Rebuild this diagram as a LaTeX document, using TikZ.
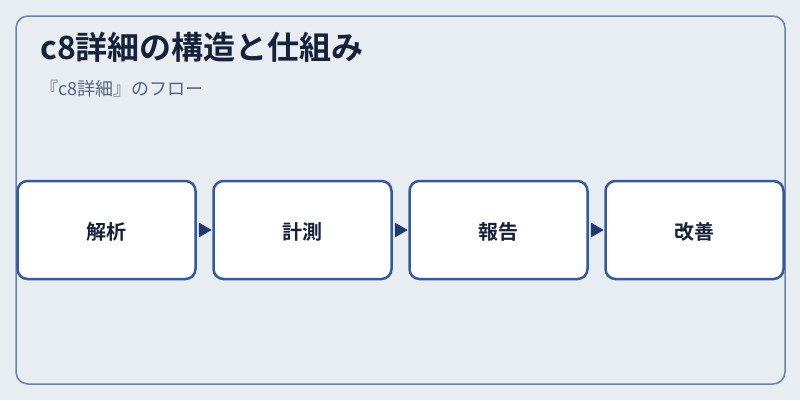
\documentclass[tikz,border=0pt]{standalone}
\usepackage{fontspec}
\setmainfont{Noto Sans CJK JP}[BoldFont={Noto Sans CJK JP Bold}]
\usetikzlibrary{arrows.meta}
\definecolor{bgc}{HTML}{E8EDF2}
\definecolor{framec}{HTML}{6A80B0}
\definecolor{boxc}{HTML}{3558A0}
\definecolor{arrc}{HTML}{1F3870}
\definecolor{titlec}{HTML}{18213A}
\definecolor{subc}{HTML}{56657F}
\tikzset{
  stepbox/.style={draw=boxc, line width=2.5pt, fill=white, rounded corners=10pt,
    minimum width=178pt, minimum height=98pt, inner sep=0pt,
    text height=21.6pt, text depth=2.4pt,
    font=\bfseries\fontsize{20pt}{24pt}\selectfont, text=titlec}
}
\begin{document}
\begin{tikzpicture}[x=1pt,y=-1pt]
\useasboundingbox (0,0) rectangle (800,400);
\fill[bgc] (0,0) rectangle (800,400);
\draw[framec, line width=1.5pt, rounded corners=12pt] (16,16) rectangle (785,384);
\node[anchor=base west, font=\bfseries\fontsize{32pt}{38pt}\selectfont, text=titlec, inner sep=0pt] (title) at (40,59) {c8詳細の構造と仕組み};
\node[anchor=base west, font=\fontsize{18pt}{22pt}\selectfont, text=subc, inner sep=0pt] (sub) at (40,95) {『c8詳細』のフロー};
\node[stepbox] (s1) at (106.5,230) {解析};
\node[stepbox] (s2) at (302.5,230) {計測};
\node[stepbox] (s3) at (498.5,230) {報告};
\node[stepbox] (s4) at (694.5,230) {改善};
\fill[arrc] ([xshift=2pt]s1.east) ++(0,-7.5) -- ++(13,7.5) -- ++(-13,7.5) -- cycle;
\fill[arrc] ([xshift=2pt]s2.east) ++(0,-7.5) -- ++(13,7.5) -- ++(-13,7.5) -- cycle;
\fill[arrc] ([xshift=2pt]s3.east) ++(0,-7.5) -- ++(13,7.5) -- ++(-13,7.5) -- cycle;
\end{tikzpicture}
\end{document}
